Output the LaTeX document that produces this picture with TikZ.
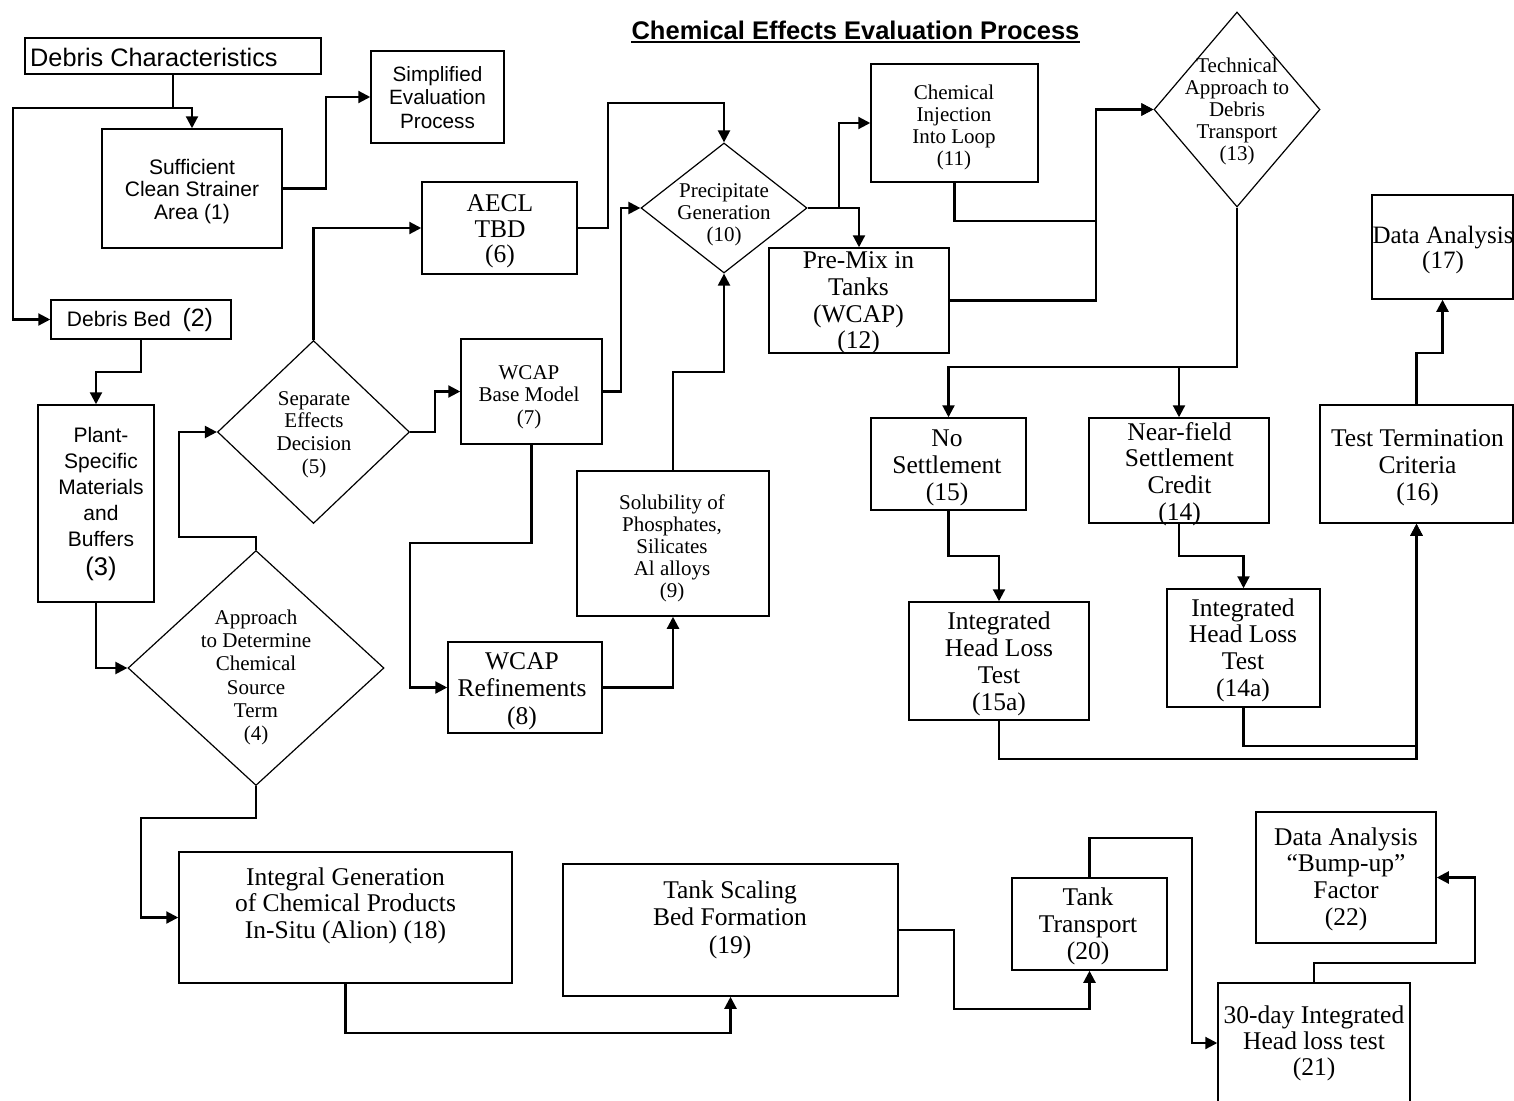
\documentclass[tikz,border=0pt]{standalone}
\usepackage{fontspec}
\setmainfont{Liberation Serif}
\setsansfont{Liberation Sans}
\usetikzlibrary{shapes.geometric,arrows.meta}
\begin{document}
\begin{tikzpicture}[x=1pt,y=-1pt,
  box/.style={draw, line width=1.5pt, rectangle, inner sep=0pt},
  dia/.style={draw, line width=1.2pt, diamond, inner sep=0pt},
  txt/.style={align=center, inner sep=0pt},
  lg/.style={font=\fontsize{25.5}{26.7}\selectfont},
  sf/.style={font=\sffamily\fontsize{21}{22.5}\selectfont},
  arr/.style={line width=2.2pt, -{Triangle[length=12pt,width=12pt]}},
]
\fill[white] (0,0) rectangle (1514,1100);
\useasboundingbox (0,0) rectangle (1514,1100);

% title
\node[inner sep=0pt, font=\sffamily\bfseries\fontsize{25.5}{27}\selectfont, anchor=base] (title) at (855.5,39) {Chemical Effects Evaluation Process};
\draw[line width=2pt] ([yshift=-3pt]title.base west) -- ([yshift=-3pt]title.base east);

% boxes
\node[box, minimum width=296, minimum height=36] (dc) at (173,56) {};
\node[inner sep=0pt, anchor=west, font=\sffamily\fontsize{25.3}{26}\selectfont] (tdc) at (30,57) {Debris Characteristics};

\node[box, minimum width=180, minimum height=119] (n1) at (192,188.5) {};
\node[txt, sf] (t1) at (192,191.5) {Sufficient\\Clean Strainer\\Area (1)};

\node[box, minimum width=133, minimum height=92] (simp) at (437.5,97) {};
\node[txt, font=\sffamily\fontsize{20.7}{23.5}\selectfont] (tsimp) at (437.5,97.5) {Simplified\\Evaluation\\Process};

\node[box, minimum width=180, minimum height=39] (n2) at (141,319.5) {};
\node[txt, sf] (t2) at (140,320) {Debris Bed\ \ {\fontsize{25}{25}\selectfont(2)}};

\node[box, minimum width=116, minimum height=197] (n3) at (96,503.5) {};
\node[txt, font=\sffamily\fontsize{21}{26}\selectfont] (t3) at (101,504.5) {Plant-\\Specific\\Materials\\and\\Buffers\\[3pt]{\fontsize{25.5}{29}\selectfont(3)}};

\node[dia, minimum width=256, minimum height=235] (n4) at (256,668) {};
\node[txt, font=\fontsize{21}{23.2}\selectfont] (t4) at (256,677.5) {Approach\\to Determine\\Chemical\\Source\\Term\\(4)};

\node[dia, minimum width=192, minimum height=183] (n5) at (313.5,432) {};
\node[txt, font=\fontsize{21}{22.7}\selectfont] (t5) at (314,434.5) {Separate\\Effects\\Decision\\(5)};

\node[box, minimum width=155, minimum height=92] (n6) at (499.5,228) {};
\node[txt, font=\fontsize{25.5}{25.5}\selectfont] (t6) at (500,231.5) {AECL\\TBD\\(6)};

\node[box, minimum width=141, minimum height=105] (n7) at (531.5,391.5) {};
\node[txt, font=\fontsize{21}{22.5}\selectfont] (t7) at (529,397) {WCAP\\Base Model\\(7)};

\node[box, minimum width=154, minimum height=91] (n8) at (525,687.5) {};
\node[txt, font=\fontsize{25.5}{27.5}\selectfont] (t8) at (522,691) {WCAP\\Refinements\\(8)};

\node[box, minimum width=192, minimum height=145] (n9) at (673,543.5) {};
\node[txt, font=\fontsize{21}{22}\selectfont] (t9) at (672,548) {Solubility of\\Phosphates,\\Silicates\\Al alloys\\(9)};

\node[dia, minimum width=166, minimum height=130] (n10) at (724,208) {};
\node[txt, font=\fontsize{21}{22}\selectfont] (t10) at (724,215) {Precipitate\\Generation\\(10)};

\node[box, minimum width=167, minimum height=118] (n11) at (954.5,123) {};
\node[txt, font=\fontsize{21}{22}\selectfont] (t11) at (954,127.5) {Chemical\\Injection\\Into Loop\\(11)};

\node[box, minimum width=180, minimum height=105] (n12) at (859,300.5) {};
\node[txt, lg] (t12) at (858.5,303) {Pre-Mix in\\Tanks\\(WCAP)\\(12)};

\node[dia, minimum width=166, minimum height=195] (n13) at (1237,109.5) {};
\node[txt, font=\fontsize{21}{22}\selectfont] (t13) at (1237,111.5) {Technical\\Approach to\\Debris\\Transport\\(13)};

\node[box, minimum width=155, minimum height=92] (n15) at (948.5,464) {};
\node[txt, font=\fontsize{25.5}{27}\selectfont] (t15) at (947,467.5) {No\\Settlement\\(15)};

\node[box, minimum width=180, minimum height=105] (n14) at (1179,470.5) {};
\node[txt, lg] (t14) at (1179.5,474) {Near-field\\Settlement\\Credit\\(14)};

\node[box, minimum width=193, minimum height=118] (n16) at (1416.5,464) {};
\node[txt, font=\fontsize{25.5}{27}\selectfont] (t16) at (1417.5,468) {Test Termination\\Criteria\\(16)};

\node[box, minimum width=141, minimum height=104] (n17) at (1442.5,247) {};
\node[txt, font=\fontsize{25}{25}\selectfont] (t17) at (1443,250) {Data Analysis\\(17)};

\node[box, minimum width=180, minimum height=118] (n15a) at (999,661) {};
\node[txt, font=\fontsize{25.5}{27}\selectfont] (t15a) at (999,663.5) {Integrated\\Head Loss\\Test\\(15a)};

\node[box, minimum width=153, minimum height=118] (n14a) at (1243.5,648) {};
\node[txt, lg] (t14a) at (1243,650) {Integrated\\Head Loss\\Test\\(14a)};

\node[box, minimum width=333, minimum height=131] (n18) at (345.5,917.5) {};
\node[txt, font=\fontsize{25.5}{26.5}\selectfont] (t18) at (345.5,905.5) {Integral Generation\\of Chemical Products\\In-Situ (Alion) (18)};

\node[box, minimum width=335, minimum height=132] (n19) at (730.5,930) {};
\node[txt, font=\fontsize{25.5}{27.5}\selectfont] (t19) at (730,919.5) {Tank Scaling\\Bed Formation\\(19)};

\node[box, minimum width=155, minimum height=92] (n20) at (1089.5,924) {};
\node[txt, font=\fontsize{25.5}{27}\selectfont] (t20) at (1088,926) {Tank\\Transport\\(20)};

\node[box, minimum width=192, minimum height=120] (n21) at (1314,1043) {};
\node[txt, font=\fontsize{25.5}{26}\selectfont] (t21) at (1314,1043.5) {30-day Integrated\\Head loss test\\(21)};

\node[box, minimum width=180, minimum height=131] (n22) at (1346,877.5) {};
\node[txt, lg] (t22) at (1346,879) {Data Analysis\\“Bump-up”\\Factor\\(22)};

% connectors
\draw[arr] (dc.south) -- (173,108) -| (n1.north);
\draw[arr] (dc.south) -- (173,108) -- (13,108) |- (n2.west);
\draw[arr] (n1.east) -- (326,188.5) |- (simp.west);
\draw[arr] (n2.south) -- (141,372) -| (n3.north);
\draw[arr] (n3.south) |- (n4.west);
\draw[arr] (n4.north) -- (256,537) -- (179,537) |- (n5.west);
\draw[arr] (n5.north) |- (n6.west);
\draw[arr] (n5.east) -- (435,432) |- (n7.west);
\draw[arr] (n6.east) -- (608,228) -- (608,103) -| (n10.north);
\draw[arr] (n7.east) -- (621,391.5) |- (n10.west);
\draw[arr] (n7.south) -- (531.5,543) -- (410,543) |- (n8.west);
\draw[arr] (n8.east) -| (n9.south);
\draw[arr] (n9.north) -- (673,372) -| (n10.south);
\draw[arr] (n10.east) -- (839,208) |- (n11.west);
\draw[arr] (n10.east) -| (n12.north);
\draw[arr] (n11.south) -- (954.5,221) -- (1096,221) |- (n13.west);
\draw[arr] (n12.east) -- (1096,300.5) |- (n13.west);
\draw[arr] (n13.south) -- (1237,367) -| (n15.north);
\draw[arr] (n13.south) -- (1237,367) -| (n14.north);
\draw[arr] (n15.south) -- (948.5,556) -| (n15a.north);
\draw[arr] (n14.south) -- (1179,556) -| (n14a.north);
\draw[arr] (n15a.south) -- (999,759) -| (n16.south);
\draw[arr] (n14a.south) -- (1243.5,746) -| (n16.south);
\draw[arr] (n16.north) -- (1416.5,353) -| (n17.south);
\draw[arr] (n4.south) -- (256,818) -- (141,818) |- (n18.west);
\draw[arr] (n18.south) -- (345.5,1033) -| (n19.south);
\draw[arr] (n19.east) -- (954,930) -- (954,1009) -| (n20.south);
\draw[arr] (n20.north) -- (1089.5,838) -- (1192,838) |- (n21.west);
\draw[arr] (n21.north) -- (1314,963) -- (1475,963) |- (n22.east);
\end{tikzpicture}
\end{document}
